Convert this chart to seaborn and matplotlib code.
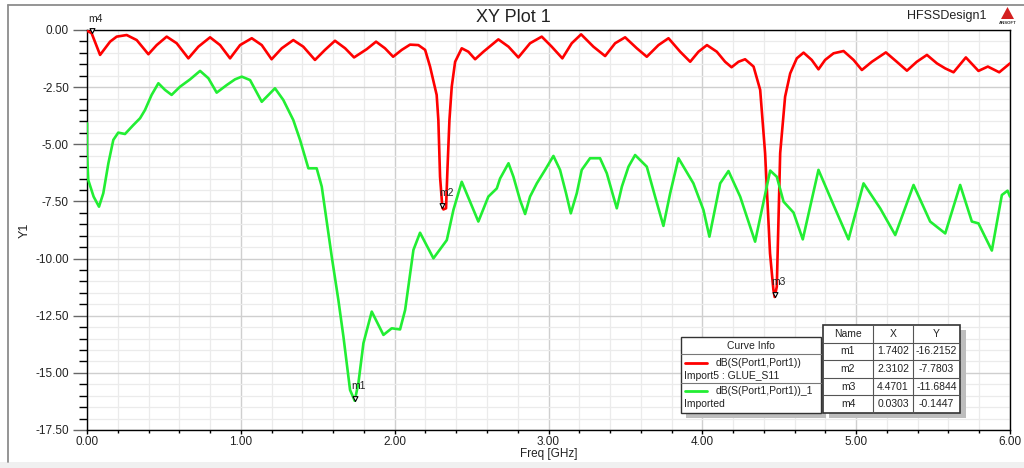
import matplotlib
matplotlib.use("Agg")
import numpy as np
import pandas as pd
import matplotlib.pyplot as plt
import seaborn as sns
from matplotlib.patches import Rectangle, Polygon
from matplotlib.lines import Line2D
from matplotlib.path import Path
from matplotlib.ticker import MultipleLocator, FormatStrFormatter

# ---------------- data ----------------
red_freq = [0.0, 0.03, 0.085, 0.15, 0.193, 0.258, 0.323, 0.399, 0.453, 0.518, 0.583, 0.659,
            0.724, 0.8, 0.865, 0.93, 0.995, 1.071, 1.136, 1.2, 1.266, 1.341, 1.406, 1.482,
            1.547, 1.612, 1.678, 1.736, 1.818, 1.879, 1.937, 1.99, 2.046, 2.1, 2.154, 2.198,
            2.23, 2.273, 2.284, 2.295, 2.3102, 2.317, 2.334, 2.343, 2.356, 2.371, 2.393, 2.436,
            2.479, 2.523, 2.577, 2.674, 2.74, 2.804, 2.88, 2.956, 3.021, 3.09, 3.151, 3.212,
            3.292, 3.368, 3.433, 3.498, 3.574, 3.639, 3.715, 3.78, 3.856, 3.921, 3.975, 4.03,
            4.094, 4.148, 4.19, 4.235, 4.278, 4.333, 4.376, 4.408, 4.44, 4.462, 4.4701, 4.484,
            4.506, 4.538, 4.571, 4.614, 4.658, 4.711, 4.755, 4.798, 4.853, 4.918, 4.983, 5.037,
            5.102, 5.193, 5.264, 5.33, 5.394, 5.46, 5.525, 5.579, 5.633, 5.713, 5.795, 5.856,
            5.93, 6.0]
red_db = [-0.03, -0.14, -1.09, -0.51, -0.29, -0.22, -0.44, -1.06, -0.66, -0.29, -0.58, -1.24,
          -0.73, -0.32, -0.66, -1.24, -0.66, -0.36, -0.66, -1.28, -0.80, -0.44, -0.73, -1.31,
          -0.87, -0.47, -0.80, -1.2, -0.84, -0.51, -0.80, -1.17, -0.87, -0.64, -0.66, -0.87,
          -1.6, -2.84, -3.94, -6.42, -7.78, -7.85, -7.8, -6.12, -3.94, -2.48, -1.39, -0.80,
          -0.95, -1.28, -0.95, -0.41, -0.73, -1.2, -0.58, -0.29, -0.73, -1.24, -0.58, -0.19,
          -0.73, -1.14, -0.58, -0.32, -0.80, -1.17, -0.66, -0.36, -0.95, -1.39, -0.95, -0.66,
          -0.95, -1.39, -1.63, -1.39, -1.28, -1.6, -2.62, -5.39, -9.77, -11.37, -11.68, -11.23,
          -5.39, -2.92, -1.9, -1.24, -0.99, -1.31, -1.72, -1.31, -1.02, -0.92, -1.31, -1.75,
          -1.39, -0.98, -1.39, -1.78, -1.39, -1.09, -1.46, -1.68, -1.85, -1.2, -1.79, -1.6,
          -1.85, -1.46]

green_freq = [0.0, 0.0, 0.008, 0.043, 0.078, 0.106, 0.139, 0.171, 0.203, 0.247, 0.301, 0.345,
              0.377, 0.42, 0.464, 0.507, 0.55, 0.605, 0.67, 0.735, 0.789, 0.843, 0.908, 0.962,
              1.006, 1.06, 1.136, 1.222, 1.276, 1.341, 1.385, 1.439, 1.493, 1.526, 1.591, 1.634,
              1.667, 1.71, 1.7402, 1.764, 1.797, 1.851, 1.927, 1.981, 2.035, 2.068, 2.122, 2.165,
              2.252, 2.339, 2.382, 2.436, 2.544, 2.609, 2.664, 2.685, 2.74, 2.772, 2.815, 2.848,
              2.88, 2.924, 2.978, 3.032, 3.075, 3.114, 3.145, 3.184, 3.216, 3.27, 3.335, 3.379,
              3.422, 3.444, 3.477, 3.52, 3.563, 3.639, 3.693, 3.747, 3.791, 3.845, 3.942, 4.007,
              4.046, 4.116, 4.17, 4.246, 4.343, 4.441, 4.484, 4.528, 4.593, 4.653, 4.755, 4.853,
              4.95, 5.048, 5.156, 5.254, 5.373, 5.481, 5.579, 5.676, 5.752, 5.795, 5.882, 5.947,
              5.984, 6.0]
green_db = [-4.08, -5.4, -6.56, -7.29, -7.73, -7.14, -5.83, -4.81, -4.49, -4.55, -4.16, -3.86,
            -3.5, -2.84, -2.33, -2.62, -2.84, -2.48, -2.16, -1.79, -2.11, -2.74, -2.41, -2.16,
            -2.04, -2.19, -3.14, -2.55, -3.06, -3.94, -4.81, -6.05, -6.05, -6.85, -9.92, -11.81,
            -13.42, -15.75, -16.22, -15.46, -13.7, -12.32, -13.34, -13.05, -13.1, -12.25, -9.62, -8.87,
            -9.99, -9.19, -7.87, -6.64, -8.38, -7.29, -6.93, -6.5, -5.83, -6.42, -7.44, -8.05,
            -7.29, -6.71, -6.12, -5.51, -6.12, -7.14, -8.02, -7.14, -6.12, -5.61, -5.61, -6.27,
            -7.29, -7.8, -6.85, -5.98, -5.47, -5.98, -7.29, -8.57, -7.14, -5.61, -6.71, -7.87,
            -9.04, -6.71, -6.17, -7.29, -9.26, -6.15, -6.42, -7.51, -7.99, -9.16, -6.12, -7.66,
            -9.16, -6.71, -7.8, -8.97, -6.78, -8.38, -8.9, -6.78, -8.38, -8.46, -9.65, -7.22,
            -7.03, -7.29]

series_names = ["dB(S(Port1,Port1))", "dB(S(Port1,Port1))_1"]
series_sources = ["Import5 : GLUE_S11", "Imported"]
series_colors = ["#ff0000", "#22ee33"]

marker_names = ["m1", "m2", "m3", "m4"]
marker_x = [1.7402, 2.3102, 4.4701, 0.0303]
marker_y = [-16.2152, -7.7803, -11.6844, -0.1447]
marker_x_text = ["1.7402", "2.3102", "4.4701", "0.0303"]
marker_y_text = ["-16.2152", "-7.7803", "-11.6844", "-0.1447"]

x_ticks = [0.0, 1.0, 2.0, 3.0, 4.0, 5.0, 6.0]
y_ticks = [0.0, -2.5, -5.0, -7.5, -10.0, -12.5, -15.0, -17.5]

# ---------------- style ----------------
sns.set_theme(style="white")
plt.rcParams["font.family"] = ["Liberation Sans", "DejaVu Sans"]

W, H = 1024, 468
fig = plt.figure(figsize=(W / 100, H / 100), dpi=100)


def fx(x):
    return x / W


def fy(y):
    return 1 - y / H


AX_L, AX_R, AX_T, AX_B = 87, 1010, 30, 430
ax = fig.add_axes([fx(AX_L), fy(AX_B), fx(AX_R) - fx(AX_L), fy(AX_T) - fy(AX_B)])

df = pd.concat([
    pd.DataFrame({"freq": red_freq, "db": red_db, "curve": series_names[0]}),
    pd.DataFrame({"freq": green_freq, "db": green_db, "curve": series_names[1]}),
])
sns.lineplot(data=df, x="freq", y="db", hue="curve", palette=series_colors,
             sort=False, estimator=None, linewidth=1.9, legend=False, ax=ax, zorder=3)

ax.set_xlim(min(x_ticks), max(x_ticks))
ax.set_ylim(min(y_ticks), max(y_ticks))
ax.xaxis.set_major_locator(MultipleLocator(1.0))
ax.xaxis.set_minor_locator(MultipleLocator(0.2))
ax.yaxis.set_major_locator(MultipleLocator(2.5))
ax.yaxis.set_minor_locator(MultipleLocator(0.5))
ax.xaxis.set_major_formatter(FormatStrFormatter("%.2f"))
ax.yaxis.set_major_formatter(FormatStrFormatter("%.2f"))

ax.set_axisbelow(True)
ax.grid(which="minor", color="#ebebeb", linewidth=0.9)
ax.grid(which="major", color="#cfcfcf", linewidth=1.0)

for s in ax.spines.values():
    s.set_color("black")
    s.set_linewidth(1.0)

ax.tick_params(axis="y", which="major", direction="out", length=10, width=1.0,
               color="#666666", pad=3, labelsize=8.5, labelcolor="#222222", left=True)
ax.tick_params(axis="y", which="minor", direction="out", length=6, width=1.0,
               color="black", left=True)
ax.tick_params(axis="x", which="major", direction="out", length=3, width=1.0,
               color="black", pad=1, labelsize=8.5, labelcolor="#222222", bottom=True)
ax.tick_params(axis="x", which="minor", direction="out", length=2.5, width=1.0,
               color="black", bottom=True)

ax.set_xlabel("Freq [GHz]", fontsize=8.5, color="#222222", va="center")
ax.set_ylabel("Y1", fontsize=9, color="#222222", va="center")
ax.xaxis.set_label_coords(0.5, (AX_B - 454) / (AX_B - AX_T))
ax.yaxis.set_label_coords((25 - AX_L) / (AX_R - AX_L), 0.5)

# markers (triangle with tip on the point)
tri = Path([(-0.5, 1.0), (0.5, 1.0), (0.0, 0.0), (-0.5, 1.0)],
           [Path.MOVETO, Path.LINETO, Path.LINETO, Path.CLOSEPOLY])
ax.plot(marker_x, marker_y, linestyle="none", marker=tri, markersize=7,
        markerfacecolor="white", markeredgecolor="black", markeredgewidth=0.8,
        zorder=5, clip_on=False)
for name, mx, my in zip(marker_names, marker_x, marker_y):
    ax.annotate(name, (mx, my), xytext=(-2.5, 10.5), textcoords="offset points",
                fontsize=7.5, color="#222222", ha="left", va="center",
                annotation_clip=False, zorder=6)

# ---------------- frame and headings ----------------
fig.add_artist(Rectangle((0, 0), 1, 6 / H, transform=fig.transFigure,
                         facecolor="#f0f0f0", edgecolor="none"))
fig.add_artist(Line2D([fx(8), fx(8)], [fy(5), fy(462)], transform=fig.transFigure,
                      color="#8c8c8c", linewidth=1.3))
fig.add_artist(Line2D([fx(8), 1.0], [fy(5), fy(5)], transform=fig.transFigure,
                      color="#8c8c8c", linewidth=1.3))

fig.text(fx(513), fy(17), "XY Plot 1", ha="center", va="center", fontsize=13, color="#222222")
fig.text(fx(987), fy(16), "HFSSDesign1", ha="right", va="center", fontsize=9, color="#222222")
fig.add_artist(Polygon([(fx(1001), fy(19)), (fx(1014), fy(19)), (fx(1007.5), fy(7))],
                       closed=True, transform=fig.transFigure,
                       facecolor="#d42020", edgecolor="none"))
fig.text(fx(1007.5), fy(22.5), "ANSOFT", ha="center", va="center", fontsize=3.2,
         color="#333333", fontweight="bold")

# ---------------- curve info box ----------------
bx0, by0, bx1, by1 = 681, 337, 821, 413
fig.add_artist(Rectangle((fx(bx0 + 5), fy(by1 + 5)), fx(bx1 - bx0), (by1 - by0) / H,
                         transform=fig.transFigure, facecolor="#bdbdbd", edgecolor="none",
                         zorder=8))
fig.add_artist(Rectangle((fx(bx0), fy(by1)), fx(bx1 - bx0), (by1 - by0) / H,
                         transform=fig.transFigure, facecolor="white", edgecolor="#333333",
                         linewidth=1.0, zorder=9))
fig.text(fx((bx0 + bx1) / 2), fy(346), "Curve Info", ha="center", va="center",
         fontsize=7.5, color="#222222", zorder=10)
for yy in (354, 383):
    fig.add_artist(Line2D([fx(bx0), fx(bx1)], [fy(yy), fy(yy)], transform=fig.transFigure,
                          color="#777777", linewidth=0.8, zorder=10))
for i, (nm, src, col) in enumerate(zip(series_names, series_sources, series_colors)):
    ly = 363 + i * 28
    fig.add_artist(Line2D([fx(685), fx(707)], [fy(ly), fy(ly)], transform=fig.transFigure,
                          color=col, linewidth=2.0, zorder=10))
    fig.text(fx(716), fy(ly), nm, ha="left", va="center", fontsize=7.5,
             color="#222222", zorder=10)
    fig.text(fx(684), fy(ly + 13), src, ha="left", va="center", fontsize=7.5,
             color="#222222", zorder=10)

# ---------------- marker table ----------------
tx0, ty0, tx1, ty1 = 823, 325, 960, 413
cols = [823, 873, 913, 960]
rh = (ty1 - ty0) / 5
fig.add_artist(Rectangle((fx(tx0 + 6), fy(ty1 + 5)), fx(tx1 - tx0), (ty1 - ty0) / H,
                         transform=fig.transFigure, facecolor="#bdbdbd", edgecolor="none",
                         zorder=8))
fig.add_artist(Rectangle((fx(tx0), fy(ty1)), fx(tx1 - tx0), (ty1 - ty0) / H,
                         transform=fig.transFigure, facecolor="white", edgecolor="#333333",
                         linewidth=1.2, zorder=9))
for c in cols[1:-1]:
    fig.add_artist(Line2D([fx(c), fx(c)], [fy(ty0), fy(ty1)], transform=fig.transFigure,
                          color="#555555", linewidth=0.8, zorder=10))
for r in range(1, 5):
    yy = ty0 + r * rh
    fig.add_artist(Line2D([fx(tx0), fx(tx1)], [fy(yy), fy(yy)], transform=fig.transFigure,
                          color="#555555", linewidth=0.8, zorder=10))
rows = [["Name", "X", "Y"]] + [[n, a, b] for n, a, b in zip(marker_names, marker_x_text, marker_y_text)]
for r, row in enumerate(rows):
    yc = ty0 + (r + 0.5) * rh
    for c, txt in enumerate(row):
        xc = (cols[c] + cols[c + 1]) / 2
        fig.text(fx(xc), fy(yc), txt, ha="center", va="center", fontsize=7.5,
                 color="#222222", zorder=11)

fig.savefig("out.png", dpi=100, facecolor="white")
